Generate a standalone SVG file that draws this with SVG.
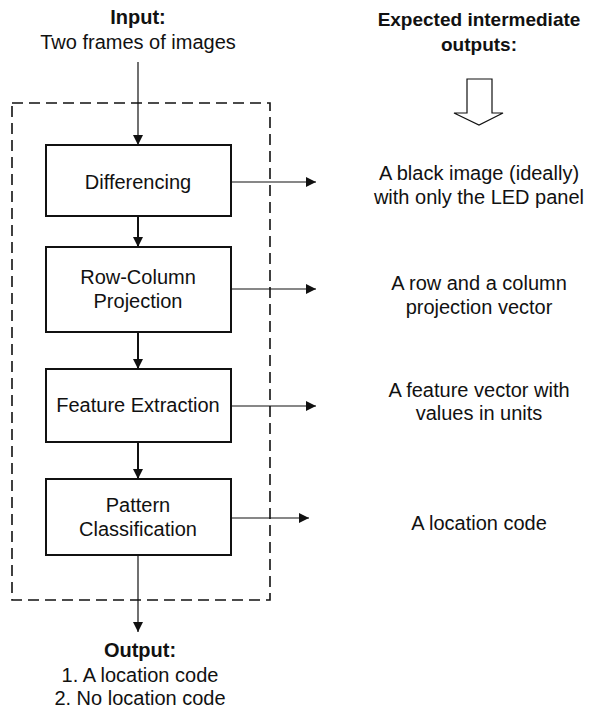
<svg xmlns="http://www.w3.org/2000/svg" width="590" height="710" viewBox="0 0 590 710">
<style>
text{font-family:"Liberation Sans",Arial,sans-serif;font-size:20px;fill:#111;text-anchor:middle}
.b{font-weight:bold}
.h{font-size:19px}
.box{fill:#fff;stroke:#111;stroke-width:2}
.thin{stroke:#111;stroke-width:1.2;fill:none}
.thick{stroke:#111;stroke-width:2;fill:none}
</style>
<defs>
<marker id="ah" viewBox="0 0 10 10" refX="10" refY="5" markerWidth="10" markerHeight="10" markerUnits="userSpaceOnUse" orient="auto">
<path d="M0,0 L10,5 L0,10 Z" fill="#111"/>
</marker>
</defs>
<g id="input-label">
<text class="b" x="138" y="24">Input:</text>
<text x="138" y="49">Two frames of images</text>
</g>
<g id="expected-label">
<text class="b h" x="479" y="26">Expected intermediate</text>
<text class="b h" x="479" y="51">outputs:</text>
<polygon points="467,79 492,79 492,113 503,113 479,125 454,113 467,113" fill="#fff" stroke="#111" stroke-width="1.2"/>
</g>
<g id="system-boundary">
<rect x="12" y="103" width="258" height="497" fill="none" stroke="#111" stroke-width="1.6" stroke-dasharray="11,6"/>
</g>
<g id="connectors">
<line class="thin" x1="138" y1="62" x2="138" y2="145" marker-end="url(#ah)"/>
<line class="thick" x1="138" y1="216" x2="138" y2="247" marker-end="url(#ah)"/>
<line class="thick" x1="138" y1="332" x2="138" y2="369" marker-end="url(#ah)"/>
<line class="thick" x1="138" y1="442" x2="138" y2="479" marker-end="url(#ah)"/>
<line class="thin" x1="138" y1="555" x2="138" y2="632" marker-end="url(#ah)"/>
<line class="thin" x1="231" y1="182" x2="316" y2="182" marker-end="url(#ah)"/>
<line class="thin" x1="231" y1="289" x2="316" y2="289" marker-end="url(#ah)"/>
<line class="thin" x1="231" y1="406" x2="316" y2="406" marker-end="url(#ah)"/>
<line class="thin" x1="231" y1="518" x2="309" y2="518" marker-end="url(#ah)"/>
</g>
<g id="differencing">
<rect class="box" x="46" y="145" width="185" height="71"/>
<text x="138" y="189">Differencing</text>
</g>
<g id="row-column-projection">
<rect class="box" x="46" y="247" width="185" height="85"/>
<text x="138" y="284">Row-Column</text>
<text x="138" y="308">Projection</text>
</g>
<g id="feature-extraction">
<rect class="box" x="46" y="369" width="185" height="73"/>
<text x="138" y="412">Feature Extraction</text>
</g>
<g id="pattern-classification">
<rect class="box" x="46" y="479" width="185" height="76"/>
<text x="138" y="512">Pattern</text>
<text x="138" y="536">Classification</text>
</g>
<g id="output-label">
<text class="b" x="140" y="657">Output:</text>
<text x="140" y="682">1. A location code</text>
<text x="140" y="705">2. No location code</text>
</g>
<g id="out1">
<text x="479" y="180">A black image (ideally)</text>
<text x="479" y="204">with only the LED panel</text>
</g>
<g id="out2">
<text x="479" y="290">A row and a column</text>
<text x="479" y="314">projection vector</text>
</g>
<g id="out3">
<text x="479" y="397">A feature vector with</text>
<text x="479" y="420">values in units</text>
</g>
<g id="out4">
<text x="479" y="530">A location code</text>
</g>
</svg>
